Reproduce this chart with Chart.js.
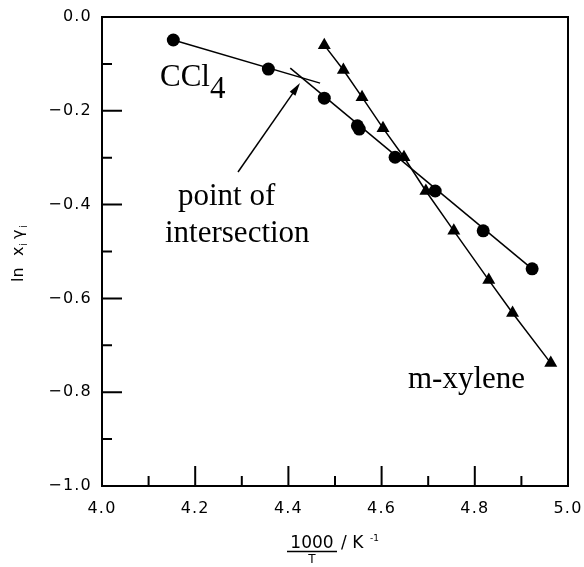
<!DOCTYPE html>
<html>
<head>
<meta charset="utf-8">
<script src="https://cdn.jsdelivr.net/npm/chart.js@4"></script>
<style>
  html, body { margin: 0; padding: 0; background: #ffffff; }
  canvas { display: block; }
</style>
</head>
<body>
<canvas id="c" width="584" height="567"></canvas>
<script>
// ---- data ----
const ccl4X = [4.153, 4.357, 4.477, 4.548, 4.552, 4.629, 4.715, 4.818, 4.923];
const ccl4Y = [-0.049, -0.111, -0.173, -0.232, -0.239, -0.299, -0.371, -0.456, -0.537];

const xyleneX = [4.477, 4.518, 4.558, 4.603, 4.648, 4.695, 4.755, 4.830, 4.881, 4.963];
const xyleneY = [-0.060, -0.113, -0.171, -0.237, -0.299, -0.371, -0.456, -0.561, -0.631, -0.738];

// two fitted straight lines for CCl4 (they cross at the "point of intersection")
const ccl4FitUpperX = [4.153, 4.468];
const ccl4FitUpperY = [-0.049, -0.141];
const ccl4FitLowerX = [4.404, 4.923];
const ccl4FitLowerY = [-0.109, -0.537];

const xTickValues = [4.0, 4.2, 4.4, 4.6, 4.8, 5.0];
const xMinorValues = [4.1, 4.3, 4.5, 4.7, 4.9];
const yTickValues = [0.0, -0.2, -0.4, -0.6, -0.8, -1.0];
const yMinorValues = [-0.1, -0.3, -0.5, -0.7, -0.9];

const zip = (xs, ys) => xs.map((x, i) => ({ x: x, y: ys[i] }));

function fmt(v) {
  const s = Math.abs(v).toFixed(1);
  return v < -1e-9 ? '\u2212' + s : s;
}

const SERIF = '"Liberation Serif", "Times New Roman", serif';
const SANS = '"DejaVu Sans", Verdana, sans-serif';

const framePlugin = {
  id: 'frame',
  beforeDraw(chart) {
    chart.ctx.letterSpacing = '1.2px';
  },
  beforeDatasetsDraw(chart) {
    chart.ctx.letterSpacing = '0px';
  },
  afterDraw(chart) {
    const ctx = chart.ctx;
    const a = chart.chartArea;
    const xs = chart.scales.x, ys = chart.scales.y;
    ctx.save();
    ctx.letterSpacing = '0px';
    ctx.strokeStyle = '#000';
    ctx.fillStyle = '#000';
    // box
    ctx.lineWidth = 2;
    ctx.strokeRect(a.left, a.top, a.right - a.left, a.bottom - a.top);
    // inward ticks
    ctx.beginPath();
    xTickValues.forEach(v => { const p = xs.getPixelForValue(v); ctx.moveTo(p, a.bottom); ctx.lineTo(p, a.bottom - 20); });
    xMinorValues.forEach(v => { const p = xs.getPixelForValue(v); ctx.moveTo(p, a.bottom); ctx.lineTo(p, a.bottom - 10); });
    yTickValues.forEach(v => { const p = ys.getPixelForValue(v); ctx.moveTo(a.left, p); ctx.lineTo(a.left + 20, p); });
    yMinorValues.forEach(v => { const p = ys.getPixelForValue(v); ctx.moveTo(a.left, p); ctx.lineTo(a.left + 10, p); });
    ctx.stroke();

    // annotations (serif)
    ctx.textAlign = 'left';
    ctx.textBaseline = 'alphabetic';
    ctx.font = '31px ' + SERIF;
    ctx.fillText('CCl', 160, 86);
    const wC = ctx.measureText('CCl').width;
    ctx.fillText('4', 160 + wC, 98);
    ctx.fillText('point of', 178, 205);
    ctx.fillText('intersection', 165, 242);
    ctx.fillText('m-xylene', 408, 388);

    // arrow
    const x0 = 238, y0 = 172, x1 = 300, y1 = 83;
    const ang = Math.atan2(y1 - y0, x1 - x0);
    ctx.lineWidth = 1.5;
    ctx.beginPath();
    ctx.moveTo(x0, y0);
    ctx.lineTo(x1 - 9 * Math.cos(ang), y1 - 9 * Math.sin(ang));
    ctx.stroke();
    ctx.beginPath();
    ctx.moveTo(x1, y1);
    ctx.lineTo(x1 - 13 * Math.cos(ang) + 3.5 * Math.sin(ang), y1 - 13 * Math.sin(ang) - 3.5 * Math.cos(ang));
    ctx.lineTo(x1 - 13 * Math.cos(ang) - 3.5 * Math.sin(ang), y1 - 13 * Math.sin(ang) + 3.5 * Math.cos(ang));
    ctx.closePath();
    ctx.fill();

    // x axis title: 1000/T / K^-1
    const cx = 312;
    ctx.font = '17px ' + SANS;
    ctx.textAlign = 'center';
    ctx.fillText('1000', cx, 548);
    ctx.lineWidth = 1.5;
    ctx.beginPath();
    ctx.moveTo(287, 551.5); ctx.lineTo(337, 551.5);
    ctx.stroke();
    ctx.font = '12px ' + SANS;
    ctx.fillText('T', cx, 563);
    ctx.textAlign = 'left';
    ctx.font = '17px ' + SANS;
    ctx.fillText('/ K', 341, 548);
    ctx.font = '9px ' + SANS;
    ctx.fillText('-1', 370, 541);

    // y axis title: ln x_i gamma_i (rotated)
    ctx.save();
    ctx.translate(23, 282);
    ctx.rotate(-Math.PI / 2);
    ctx.textAlign = 'left';
    ctx.font = '16px ' + SANS;
    ctx.fillText('ln', 0, 0);
    ctx.fillText('x', 26, 0);
    ctx.font = '10px ' + SANS;
    ctx.fillText('i', 36, 4);
    ctx.font = '16px ' + SANS;
    ctx.fillText('\u03B3', 43, 0);
    ctx.font = '10px ' + SANS;
    ctx.fillText('i', 54, 4);
    ctx.restore();

    ctx.restore();
  }
};

const chart = new Chart(document.getElementById('c'), {
  type: 'scatter',
  data: {
    datasets: [
      {
        label: 'CCl4 fit (high T)',
        data: zip(ccl4FitUpperX, ccl4FitUpperY),
        showLine: true, borderColor: '#000', borderWidth: 1.5, pointRadius: 0, fill: false
      },
      {
        label: 'CCl4 fit (low T)',
        data: zip(ccl4FitLowerX, ccl4FitLowerY),
        showLine: true, borderColor: '#000', borderWidth: 1.5, pointRadius: 0, fill: false
      },
      {
        label: 'CCl4',
        data: zip(ccl4X, ccl4Y),
        showLine: false, pointStyle: 'circle', pointRadius: 6.5,
        backgroundColor: '#000', borderColor: '#000', borderWidth: 0
      },
      {
        label: 'm-xylene',
        data: zip(xyleneX, xyleneY),
        showLine: true, borderColor: '#000', borderWidth: 1.5,
        pointStyle: 'triangle', pointRadius: 7.5,
        pointBackgroundColor: '#000', pointBorderColor: '#000', pointBorderWidth: 0, fill: false
      }
    ]
  },
  options: {
    responsive: false,
    animation: false,
    devicePixelRatio: 1,
    layout: { padding: { left: 0, right: 16, top: 17, bottom: 0 } },
    plugins: { legend: { display: false }, tooltip: { enabled: false }, title: { display: false } },
    scales: {
      x: {
        type: 'linear', min: 4.0, max: 5.0,
        afterBuildTicks: s => { s.ticks = xTickValues.map(v => ({ value: v })); },
        afterFit: s => { s.height = 81; s.paddingLeft = 0; s.paddingRight = 0; },
        grid: { display: false, drawTicks: false },
        border: { display: false },
        ticks: { color: '#000', padding: 13, font: { family: SANS, size: 16 }, callback: v => fmt(v), maxRotation: 0 }
      },
      y: {
        type: 'linear', min: -1.0, max: 0.0,
        afterBuildTicks: s => { s.ticks = yTickValues.map(v => ({ value: v })); },
        afterFit: s => { s.width = 102; s.paddingTop = 0; s.paddingBottom = 0; },
        grid: { display: false, drawTicks: false },
        border: { display: false },
        ticks: { color: '#000', padding: 10, font: { family: SANS, size: 16 }, callback: v => fmt(v) }
      }
    }
  },
  plugins: [framePlugin]
});
</script>
</body>
</html>
